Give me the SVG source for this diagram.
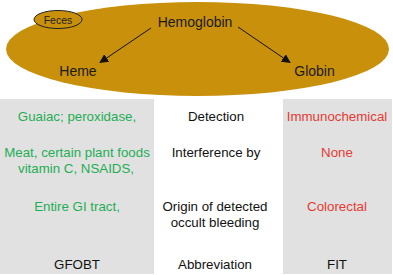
<svg xmlns="http://www.w3.org/2000/svg" width="393" height="275" viewBox="0 0 393 275">
<defs>
<style>
text{font-family:"Liberation Sans",Arial,sans-serif;text-anchor:middle}
.t{font-size:13.3px}
.h{font-size:14px;fill:#1a1a1a}
.g{fill:#1fae54}
.r{fill:#e63a32}
.k{fill:#111}
.panel{fill:#e1e1e1}
.conn{stroke:#111;stroke-width:1;fill:none;marker-end:url(#ah)}
</style>
<marker id="ah" viewBox="0 0 10 10" refX="9" refY="5" markerWidth="9" markerHeight="9" markerUnits="userSpaceOnUse" orient="auto">
<path d="M0,0 L10,5 L0,10 z" fill="#111"/>
</marker>
</defs>
<rect width="393" height="275" fill="#fff"/>
<g id="gfobt-panel"><rect class="panel" x="0" y="99" width="154" height="175"/></g>
<g id="fit-panel"><rect class="panel" x="283" y="99" width="109" height="175"/></g>
<g id="feces-region"><ellipse cx="197.5" cy="49" rx="191.5" ry="47" fill="#c8900b"/></g>
<g id="feces-label">
<ellipse cx="58" cy="19.5" rx="24" ry="9" fill="#c8900b" stroke="#222" stroke-width="1"/>
<text x="58" y="23.5" style="font-size:10.5px;fill:#222">Feces</text>
</g>
<g id="hemoglobin"><text class="h" x="195" y="27">Hemoglobin</text></g>
<g id="heme"><text class="h" x="78" y="76">Heme</text></g>
<g id="globin"><text class="h" x="314.5" y="76">Globin</text></g>
<g id="connectors">
<line class="conn" x1="151" y1="28" x2="100" y2="62.5"/>
<line class="conn" x1="238" y1="27" x2="290" y2="62.5"/>
</g>
<g id="row-detection">
<text class="t g" x="77" y="121">Guaiac; peroxidase,</text>
<text class="t k" x="216" y="121">Detection</text>
<text class="t r" x="337" y="121">Immunochemical</text>
</g>
<g id="row-interference">
<text class="t g" x="77" y="157">Meat, certain plant foods</text>
<text class="t g" x="76" y="173">vitamin C, NSAIDS,</text>
<text class="t k" x="216" y="157">Interference by</text>
<text class="t r" x="337" y="157">None</text>
</g>
<g id="row-origin">
<text class="t g" x="77" y="211">Entire GI tract,</text>
<text class="t k" x="215" y="211">Origin of detected</text>
<text class="t k" x="215" y="227">occult bleeding</text>
<text class="t r" x="337" y="211">Colorectal</text>
</g>
<g id="row-abbreviation">
<text class="t k" x="77" y="269">GFOBT</text>
<text class="t k" x="215" y="269">Abbreviation</text>
<text class="t k" x="337" y="269">FIT</text>
</g>
</svg>
